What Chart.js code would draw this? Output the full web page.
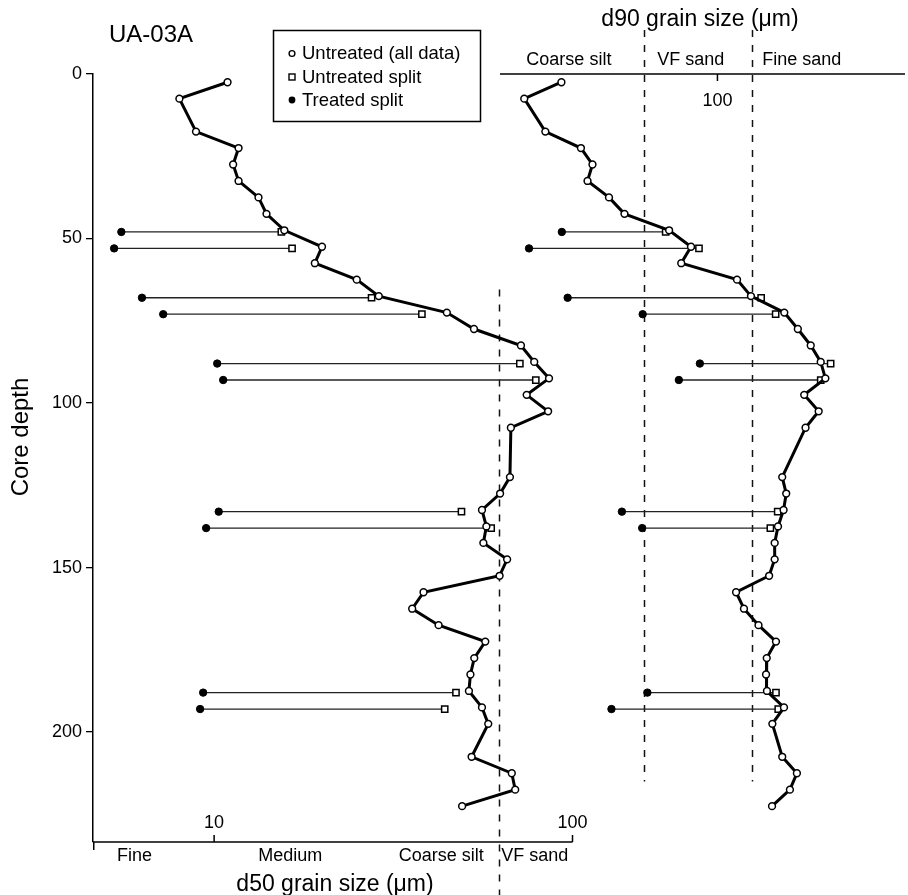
<!DOCTYPE html>
<html><head><meta charset="utf-8">
<script src="https://cdn.jsdelivr.net/npm/chart.js@4.4.0/dist/chart.umd.min.js"></script>
<style>html,body{margin:0;padding:0;background:#fff}#wrap{width:908px;height:895px;position:relative}canvas{display:block}</style>
</head><body><div id="wrap"><canvas id="c" width="908" height="895"></canvas></div>
<script>
// ---- data ----
const depths = [2.5,7.5,17.5,22.5,27.5,32.5,37.5,42.5,47.5,52.5,57.5,62.5,67.5,72.5,77.5,82.5,87.5,92.5,97.5,102.5,107.5,122.5,127.5,132.5,137.5,142.5,147.5,152.5,157.5,162.5,167.5,172.5,177.5,182.5,187.5,192.5,197.5,207.5,212.5,217.5,222.5];
const d50 = [10.9,8.0,8.9,11.7,11.3,11.7,13.3,14.0,15.7,20.0,19.1,25.0,28.8,44.6,53.1,71.8,78.2,86.0,74.5,85.5,67.3,66.9,62.8,55.9,57.5,56.4,65.7,62.6,38.4,35.7,42.3,57.1,53.2,51.9,51.4,55.9,58.2,52.3,67.7,69.2,49.2];
const d90 = [37.0,29.2,33.4,41.9,45.1,43.7,50.1,55.3,73.5,84.5,79.4,113.3,123.8,153.1,166.9,181.2,193.1,198.9,173.8,190.6,175.3,151.1,155.0,152.4,147.1,144.0,144.0,139.0,112.6,118.4,129.9,145.2,136.9,136.3,137.1,152.8,141.9,151.1,165.9,158.7,141.6];
const splitDepths = [48,53,68,73,88,93,133,138,188,193];
const d50UntreatedSplit = [15.4,16.5,27.5,38.0,71.3,79.0,49.0,59.3,47.3,44.0];
const d50TreatedSplit = [5.51,5.26,6.29,7.21,10.2,10.6,10.3,9.5,9.32,9.14];
const d90UntreatedSplit = [71.9,88.9,132.1,144.9,205.7,193.1,146.8,140.1,145.2,147.3];
const d90TreatedSplit = [37.1,30.1,38.5,62.1,89.4,78.2,54.4,61.9,64.0,50.9];
const depthTicks = [0,50,100,150,200];
const d50TickLabels = [10,100];
const d90TickLabels = [100];
const d50Classes = ['Fine','Medium','Coarse silt','VF sand'];
const d90Classes = ['Coarse silt','VF sand','Fine sand'];
const d50Boundaries = [62.5];
const d90Boundaries = [62.5,125];
const legendLabels = ['Untreated (all data)','Untreated split','Treated split'];
const titleText = 'UA-03A';
const d50Title = 'd50 grain size (\u03bcm)';
const d90Title = 'd90 grain size (\u03bcm)';
const yTitle = 'Core depth';

// ---- layout ----
const F = '"Liberation Sans", Arial, Helvetica, sans-serif';
const AREA_L = 93, AREA_R = 908;
const L10 = 215, LDEC = 361;     // left (d50) scale: 10 at px 215
const R100 = 722, RDEC = 364;    // right (d90) scale: 100 at px 722
const xLmin = Math.pow(10, 1 - (L10 - AREA_L) / LDEC), xLmax = Math.pow(10, 1 + (AREA_R - L10) / LDEC);
const xRmin = Math.pow(10, 2 - (R100 - AREA_L) / RDEC), xRmax = Math.pow(10, 2 + (AREA_R - R100) / RDEC);
const d50ClassAt = [6.0, 16.3, 43, 78.5];
const d90ClassAt = [38.8, 84.4, 171.2];

const datasets = [];
datasets.push({
  label: legendLabels[0] + ' d50', xAxisID: 'xL', yAxisID: 'y', order: 0,
  data: depths.map((d, i) => ({x: d50[i], y: d})),
  borderColor: '#000', borderWidth: 3, tension: 0,
  pointRadius: 3.4, pointBorderWidth: 1.5, pointBackgroundColor: '#fff', pointBorderColor: '#000'
});
datasets.push({
  label: legendLabels[0] + ' d90', xAxisID: 'xR', yAxisID: 'y', order: 0,
  data: depths.map((d, i) => ({x: d90[i], y: d})),
  borderColor: '#000', borderWidth: 3, tension: 0,
  pointRadius: 3.4, pointBorderWidth: 1.5, pointBackgroundColor: '#fff', pointBorderColor: '#000'
});
function addSplits(treated, untreated, axis) {
  splitDepths.forEach((d, i) => {
    datasets.push({
      label: 'split ' + axis + i, xAxisID: axis, yAxisID: 'y', order: 1,
      data: [{x: treated[i], y: d}, {x: untreated[i], y: d}],
      borderColor: '#222', borderWidth: 1.3,
      pointStyle: ['circle', 'rect'], pointRadius: [3.7, 4.4],
      pointBackgroundColor: ['#000', '#fff'], pointBorderColor: '#000', pointBorderWidth: [1, 1.5]
    });
  });
}
addSplits(d50TreatedSplit, d50UntreatedSplit, 'xL');
addSplits(d90TreatedSplit, d90UntreatedSplit, 'xR');

function line(ctx, x1, y1, x2, y2) { ctx.beginPath(); ctx.moveTo(x1, y1); ctx.lineTo(x2, y2); ctx.stroke(); }
function text(ctx, s, x, y, size, align) {
  ctx.font = size + 'px ' + F; ctx.textAlign = align || 'center'; ctx.textBaseline = 'middle'; ctx.fillStyle = '#000';
  ctx.fillText(s, x, y);
}

const deco = {
  id: 'deco',
  beforeDatasetsDraw(chart) {
    const ctx = chart.ctx, xL = chart.scales.xL, xR = chart.scales.xR, y = chart.scales.y;
    ctx.save();
    ctx.strokeStyle = '#111'; ctx.lineWidth = 1.5; ctx.setLineDash([7, 8]);
    d50Boundaries.forEach(v => { const px = Math.round(xL.getPixelForValue(v)) + 0.5; line(ctx, px, y.getPixelForValue(65.5), px, 895); });
    d90Boundaries.forEach(v => { const px = Math.round(xR.getPixelForValue(v)) + 0.5; line(ctx, px, 30, px, y.getPixelForValue(215)); });
    ctx.restore();
  },
  afterDraw(chart) {
    const ctx = chart.ctx, xL = chart.scales.xL, xR = chart.scales.xR, y = chart.scales.y;
    const area = chart.chartArea;
    ctx.save();
    ctx.strokeStyle = '#000'; ctx.lineWidth = 1.5; ctx.setLineDash([]);
    // y axis extension below the bottom axis
    line(ctx, area.left + 0.75, area.bottom, area.left + 0.75, area.bottom + 8);
    // bottom d50 axis
    const by = area.bottom;
    line(ctx, area.left, by, xL.getPixelForValue(100), by);
    d50TickLabels.forEach(v => {
      const px = xL.getPixelForValue(v);
      line(ctx, px, by, px, by - 7);
      text(ctx, String(v), px, by - 19, 18);
    });
    d50Classes.forEach((s, i) => text(ctx, s, xL.getPixelForValue(d50ClassAt[i]), 856, 18));
    text(ctx, d50Title, 335, 885, 23);
    // top d90 axis
    const ty = y.getPixelForValue(0);
    line(ctx, 500, ty, 905, ty);
    d90TickLabels.forEach(v => {
      const px = xR.getPixelForValue(v);
      line(ctx, px, ty, px, ty + 7);
      text(ctx, String(v), px, 101.5, 18);
    });
    d90Classes.forEach((s, i) => text(ctx, s, xR.getPixelForValue(d90ClassAt[i]), 60, 18));
    text(ctx, d90Title, 700, 20, 23);
    // titles
    text(ctx, titleText, 151, 35, 24);
    ctx.save(); ctx.translate(21, 437); ctx.rotate(-Math.PI / 2); text(ctx, yTitle, 0, 0, 24); ctx.restore();
    // legend
    ctx.lineWidth = 1.5; ctx.strokeStyle = '#000';
    ctx.fillStyle = '#fff'; ctx.fillRect(273, 30.5, 207, 91);
    ctx.strokeRect(273.5, 30.5, 207, 91);
    const rows = [53.5, 77, 100];
    const mx = 292;
    ctx.lineWidth = 1.4;
    ctx.beginPath(); ctx.arc(mx, rows[0], 2.9, 0, Math.PI * 2); ctx.fillStyle = '#fff'; ctx.fill(); ctx.stroke();
    ctx.fillStyle = '#fff'; ctx.fillRect(mx - 3, rows[1] - 3, 6, 6); ctx.strokeRect(mx - 3, rows[1] - 3, 6, 6);
    ctx.beginPath(); ctx.arc(mx, rows[2], 3.4, 0, Math.PI * 2); ctx.fillStyle = '#000'; ctx.fill();
    legendLabels.forEach((s, i) => text(ctx, s, 302, rows[i] + 0.5, 18.5, 'left'));
    ctx.restore();
  }
};

new Chart(document.getElementById('c'), {
  type: 'line',
  data: {datasets},
  options: {
    responsive: false, animation: false, devicePixelRatio: 1,
    layout: {padding: {top: 74, bottom: 53, left: 0, right: 0}},
    plugins: {legend: {display: false}, tooltip: {enabled: false}, title: {display: false}},
    scales: {
      xL: {type: 'logarithmic', position: 'bottom', display: false, min: xLmin, max: xLmax, bounds: 'data'},
      xR: {type: 'logarithmic', position: 'top', display: false, min: xRmin, max: xRmax, bounds: 'data'},
      y: {
        type: 'linear', position: 'left', reverse: true, min: 0, max: 233.4,
        afterFit(s) { s.width = AREA_L; },
        afterBuildTicks(s) { s.ticks = depthTicks.map(v => ({value: v})); },
        border: {display: true, color: '#000', width: 1.5},
        grid: {display: true, drawOnChartArea: false, drawTicks: true, tickLength: 7, color: '#000', lineWidth: 1.3},
        ticks: {color: '#000', font: {family: F, size: 18}, padding: 4, includeBounds: false}
      }
    }
  },
  plugins: [deco]
});
</script></body></html>
